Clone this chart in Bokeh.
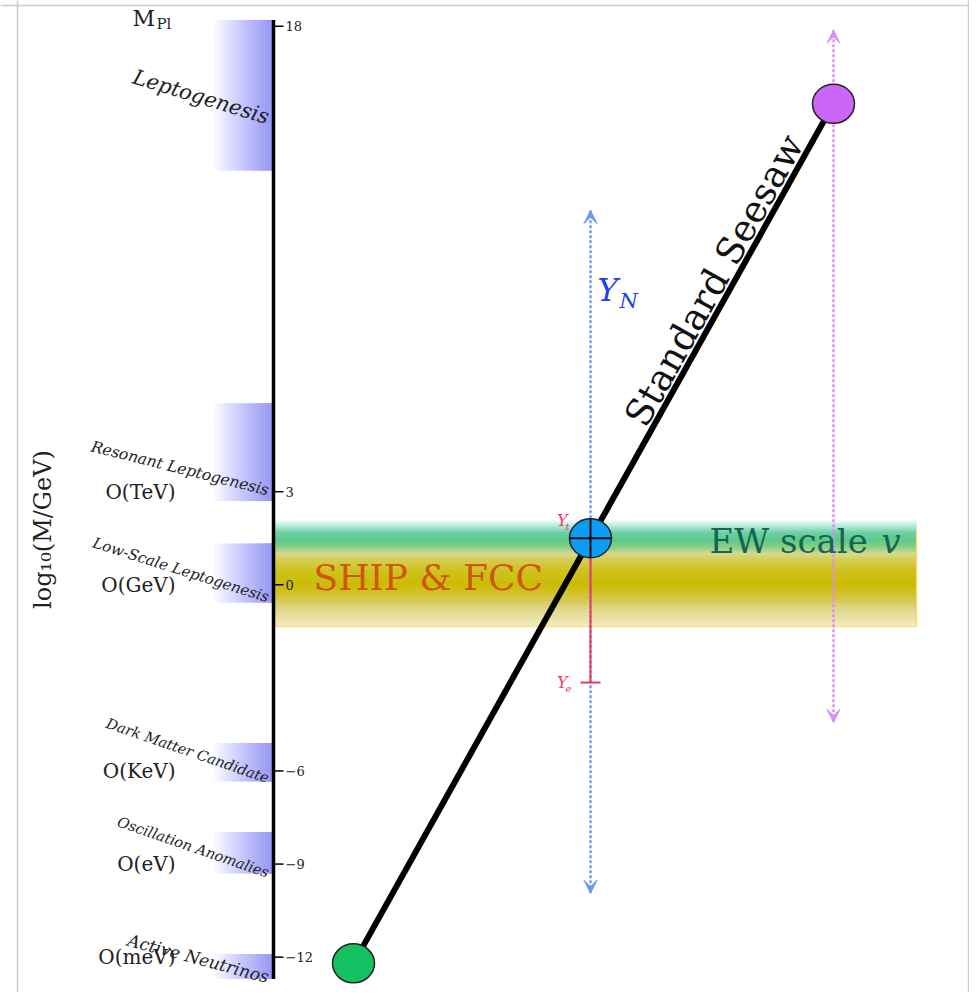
import numpy as np
from bokeh.plotting import figure
from bokeh.models import Range1d, Arrow, VeeHead, Span
from bokeh.core.properties import value
from bokeh.embed import file_html
from bokeh.resources import INLINE

# ---------------- data ----------------
tick_values = [18, 3, 0, -6, -9, -12]
tick_labels = ["18", "3", "0", "\u22126", "\u22129", "\u221212"]

scale_values = [3, 0, -6, -9, -12]
scale_labels = ["O(TeV)", "O(GeV)", "O(KeV)", "O(eV)", "O(meV)"]

region_names = ["Leptogenesis", "Resonant Leptogenesis", "Low-Scale Leptogenesis",
                "Dark Matter Candidate", "Oscillation Anomalies", "Active Neutrinos"]
region_low = [13.35, 2.7, -0.57, -6.34, -9.3, -12.7]
region_high = [18.2, 5.85, 1.33, -5.1, -7.97, -11.9]
region_label_y = [15.06, 3.04, -0.41, -6.24, -9.29, -12.65]
region_label_angle = [-17, -14, -17.5, -19, -19, -15]
region_label_size = ["21px", "15.5px", "15px", "14.5px", "14.5px", "17px"]

axis_x = 273          # horizontal position of the log10(M/GeV) axis
axis_low, axis_high = -12.7, 18.2
region_x0 = 213       # left edge of the shaded region bars

# standard seesaw line and the three states on it
seesaw_x = [353, 833]
seesaw_y = [-12.2, 15.5]
state_x = [353, 590, 833]
state_y = [-12.2, 1.5, 15.5]
state_colors = ["#14c262", "#0b9cf6", "#cc66f8"]

# Yukawa ranges
yn_x, yn_low, yn_high = 590, -9.94, 12.06
pur_x, pur_low, pur_high = 833, -4.43, 17.87
yuk_values = [2.07, -3.15]
yuk_subs = ["t", "e"]

# EW scale / SHIP & FCC band
band_x0, band_x1 = 273, 916
band_low, band_high = -1.34, 2.07
band_stop_v = [2.07, 1.98, 1.85, 1.69, 1.43, 1.20, 1.00, 0.80, 0.45, -0.02, -0.44, -0.83, -1.21, -1.34]
band_stop_c = ["#f4fcfa", "#d0f2ea", "#a6e6d4", "#70d0a2", "#5cc88c", "#8fcf86", "#d8d890",
               "#d6cd52", "#cec21e", "#ccbc04", "#d4c648", "#e2d990", "#eee6b4", "#f4ecbc"]

# ---------------- figure ----------------
PX = 31.03            # screen pixels per decade
Y0 = 584.3            # screen row of log10(M/GeV) = 0
def vy(row):
    return (Y0 - row) / PX

p = figure(width=969, height=992, x_range=Range1d(0, 969), y_range=Range1d(vy(992), vy(0)),
           output_backend="svg", toolbar_location=None, x_axis_type=None, y_axis_type=None,
           min_border=0)
p.grid.visible = False
p.outline_line_color = None
p.background_fill_color = "white"

p.add_layout(Span(location=17, dimension="height", line_color="#cccccc", line_width=1.5))
p.add_layout(Span(location=968, dimension="height", line_color="#cccccc", line_width=1.5))
p.add_layout(Span(location=vy(5), dimension="width", line_color="#cccccc", line_width=1.5))

# region bars: horizontal linear gradient white -> blue (stacked translucent layers)
nstrip = 30
edges = np.linspace(region_x0, axis_x, nstrip + 1)[:-1]
layer_alpha = 1.0 / (nstrip - np.arange(nstrip))
for lo, hi in zip(region_low, region_high):
    p.quad(left=edges, right=[axis_x] * nstrip, bottom=[lo] * nstrip, top=[hi] * nstrip,
           fill_color="#9898f7", fill_alpha=layer_alpha, line_color=None)

# EW band gradient
def hex2rgb(h):
    return [int(h[i:i + 2], 16) for i in (1, 3, 5)]
sv = np.array(band_stop_v[::-1])
sc = np.array([hex2rgb(c) for c in band_stop_c[::-1]], dtype=float)
nb = 120
bedges = np.linspace(band_low, band_high, nb + 1)
mids = 0.5 * (bedges[:-1] + bedges[1:])
cols = []
for m in mids:
    rgb = [int(round(np.interp(m, sv, sc[:, k]))) for k in range(3)]
    cols.append("#%02x%02x%02x" % tuple(rgb))
tops = np.minimum(bedges[1:] + 0.03, band_high)
p.quad(left=[band_x0] * nb, right=[band_x1] * nb, bottom=bedges[:-1], top=tops,
       fill_color=cols, line_color=None)
p.segment(x0=[band_x0], x1=[band_x1], y0=[band_low], y1=[band_low], line_color="#ffe08a", line_width=1.5)
p.segment(x0=[band_x1], x1=[band_x1], y0=[band_low], y1=[band_high - 0.3], line_color="#ffd84a", line_width=1.2)

# axis
p.segment(x0=[axis_x], x1=[axis_x], y0=[axis_low], y1=[axis_high], line_color="black", line_width=3.5)
p.scatter(x=[axis_x + 5] * len(tick_values), y=tick_values, marker="dash", size=10,
          line_color="black", line_width=1.5)
p.text(x=[axis_x + 12] * len(tick_values), y=tick_values, text=tick_labels,
       text_font=value("DejaVu Serif"), text_font_size="13px", text_baseline="middle",
       text_align="left", text_color="#222222")

# energy labels
p.text(x=[175] * len(scale_values), y=scale_values, text=scale_labels,
       text_font=value("DejaVu Serif"), text_font_size="20px", text_baseline="middle",
       text_align="right", text_color="#222222")

# region labels
p.text(x=[268] * len(region_names), y=region_label_y, text=region_names,
       angle=region_label_angle, angle_units="deg",
       text_font=value("DejaVu Serif"), text_font_style="italic",
       text_font_size=region_label_size, text_baseline="alphabetic", text_align="right",
       text_color="#222222")

# axis title
p.text(x=[42], y=[vy(529)], text=["log\u2081\u2080(M/GeV)"], angle=90, angle_units="deg",
       text_font=value("DejaVu Serif"), text_font_size="24px", text_baseline="middle",
       text_align="center", text_color="#222222")

# M_Pl
p.text(x=[132], y=[vy(18)], text=["M"], text_font=value("DejaVu Serif"),
       text_font_size="22px", text_baseline="middle", text_align="left", text_color="#222222")
p.text(x=[156], y=[vy(23)], text=["Pl"], text_font=value("DejaVu Serif"),
       text_font_size="15px", text_baseline="middle", text_align="left", text_color="#222222")

# Yukawa ranges: dotted lines (glyph level) + arrow heads
blue_c, purple_c = "#6a9bf2", "#dc8cfc"
p.segment(x0=[yn_x, pur_x], x1=[yn_x, pur_x], y0=[yn_low, pur_low], y1=[yn_high, pur_high],
          line_color=[blue_c, purple_c], line_width=2.4, line_dash="3 2")
for xa, lo, hi, c in [(yn_x, yn_low, yn_high, blue_c), (pur_x, pur_low, pur_high, purple_c)]:
    p.add_layout(Arrow(x_start=xa, y_start=lo, x_end=xa, y_end=hi, line_alpha=0,
                       start=VeeHead(size=13, fill_color=c, line_color=c),
                       end=VeeHead(size=13, fill_color=c, line_color=c)))

# red Yukawa range
p.segment(x0=[yn_x], x1=[yn_x], y0=[yuk_values[0]], y1=[yuk_values[1]], line_color="#ec3a5c", line_width=2)
p.scatter(x=[yn_x] * 2, y=yuk_values, marker="dash", size=20, line_color="#ec3a5c", line_width=2)
p.text(x=[567] * 2, y=yuk_values, text=["Y", "Y"], text_font=value("DejaVu Serif"),
       text_font_style="italic", text_font_size="16px", text_baseline="middle",
       text_align="right", text_color="#ec3a5c")
p.text(x=[565] * 2, y=[v - 0.18 for v in yuk_values], text=yuk_subs, text_font=value("DejaVu Serif"),
       text_font_style="italic", text_font_size="10px", text_baseline="middle",
       text_align="left", text_color="#ec3a5c")

# seesaw line
p.line(x=seesaw_x, y=seesaw_y, line_color="black", line_width=6)

# states
p.ellipse(x=state_x, y=state_y, width=42, height=39, width_units="screen", height_units="screen",
          fill_color=state_colors, line_color="#222222", line_width=1.5)
p.scatter(x=[state_x[1]] * 2, y=[state_y[1]] * 2, marker="dash", size=[41, 38], angle=[0, np.pi / 2],
          line_color="#111111", line_width=2)

# band texts
p.text(x=[313], y=[vy(577)], text=["SHIP & FCC"], text_font=value("DejaVu Serif"),
       text_font_size="36px", text_baseline="middle", text_align="left", text_color="#d0560e")
p.text(x=[709], y=[vy(540)], text=["EW scale"], text_font=value("DejaVu Serif"),
       text_font_size="34px", text_baseline="middle", text_align="left", text_color="#146650")
p.text(x=[881], y=[vy(540)], text=["v"], text_font=value("DejaVu Serif"),
       text_font_style="italic", text_font_size="34px", text_baseline="middle", text_align="left",
       text_color="#146650")

# Y_N
p.text(x=[597], y=[vy(289)], text=["Y"], text_font=value("DejaVu Serif"),
       text_font_style="italic", text_font_size="31px", text_baseline="middle", text_align="left",
       text_color="#2240ee")
p.text(x=[619], y=[vy(300)], text=["N"], text_font=value("DejaVu Serif"),
       text_font_style="italic", text_font_size="21px", text_baseline="middle", text_align="left",
       text_color="#2240ee")

# Standard Seesaw label
p.text(x=[714], y=[vy(280)], text=["Standard Seesaw"], angle=60.85, angle_units="deg",
       text_font=value("DejaVu Serif"), text_font_size="37px", text_baseline="middle",
       text_align="center", text_color="#111111")

open("out.html", "w").write(file_html(p, INLINE))
